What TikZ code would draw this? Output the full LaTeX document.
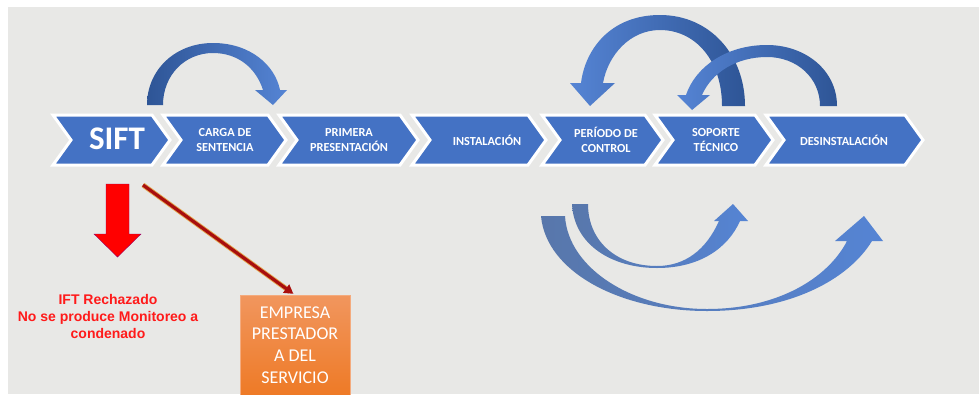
\documentclass[tikz,border=0pt]{standalone}
\usepackage{fontspec}
\setmainfont{Carlito}
\newfontfamily\arialfont{Liberation Sans}
\usetikzlibrary{arrows.meta}
\definecolor{bg}{HTML}{E8E8E6}
\definecolor{chev}{HTML}{4472C4}
\definecolor{arcdark}{HTML}{2E5596}
\definecolor{arclight}{HTML}{5584D4}
\definecolor{arcmid}{HTML}{2B5098}
\definecolor{darkred}{HTML}{A80E0E}
\definecolor{glow}{HTML}{E3A34A}
\definecolor{otop}{HTML}{F1965E}
\definecolor{obot}{HTML}{EE7A26}
\definecolor{redtxt}{HTML}{FF1A1A}
\tikzset{
  chevbox/.style={fill=chev, draw=white, line width=3pt, line join=miter},
  chevtxt/.style={text=white, font=\bfseries\fontsize{12.3}{15}\selectfont, align=center, inner sep=0pt},
  boxtxt/.style={text=white, font=\fontsize{18}{21.7}\selectfont, align=center, inner sep=0pt},
  redlabel/.style={text=redtxt, font=\arialfont\bfseries\fontsize{14}{17}\selectfont, align=center, inner sep=0pt},
  obox/.style={rectangle, minimum width=110pt, minimum height=100pt, inner sep=0pt, top color=otop, bottom color=obot, draw=otop!80!white, line width=0.5pt},
  linkarrow/.style={draw=darkred, line width=3.2pt, -{Triangle[length=9pt,width=10pt]}},
}
\newcommand\chev[2]{\filldraw[chevbox] (#1,115) -- (#2,115) -- (#2+18,140) -- (#2,165) -- (#1,165) -- (#1+18,140) -- cycle;}
\begin{document}
\begin{tikzpicture}[x=1pt,y=-1pt]
\useasboundingbox (0,0) rectangle (979,394);
\fill[white] (0,0) rectangle (979,394);
\fill[bg] (8,7) rectangle (979,394);

% chevrons
\chev{53}{152}
\chev{163}{268}
\chev{279}{400}
\chev{412}{528}
\chev{542}{645}
\chev{655}{755}
\chev{766}{905}

\node[chevtxt, font=\bfseries\fontsize{33}{33}\selectfont] (sift) at (117,138.5) {SIFT};
\node[chevtxt] (carga) at (225,140) {CARGA DE\\SENTENCIA};
\node[chevtxt] (primera) at (349,140) {PRIMERA\\PRESENTACIÓN};
\node[chevtxt] (instal) at (487,140) {INSTALACIÓN};
\node[chevtxt] (periodo) at (606,140) {PERÍODO DE\\CONTROL};
\node[chevtxt] (soporte) at (716,140.5) {SOPORTE\\TÉCNICO};
\node[chevtxt] (desinst) at (844,140) {DESINSTALACIÓN};

% curved arrow 1 (SIFT -> PRIMERA)
\shade[left color=arcdark, right color=arclight]
  (147,105) .. controls (147,70) and (175,43) .. (213,43)
  .. controls (250,43) and (275,65) .. (280,90)
  -- (287,90) -- (273,105) -- (255,90) -- (263,90)
  .. controls (256,68) and (238,53) .. (213,53)
  .. controls (185,53) and (163,75) .. (163,105) -- cycle;

% curved arrow 2 (SOPORTE -> PERIODO)
\shade[left color=arclight, right color=arcdark]
  (745,106) .. controls (745,55) and (710,15) .. (660,15)
  .. controls (610,15) and (585,50) .. (581,83)
  -- (570,83) -- (590,106) -- (615,83) -- (603,83)
  .. controls (608,55) and (630,30) .. (660,30)
  .. controls (695,30) and (722,60) .. (722,106) -- cycle;

% curved arrow 3 (DESINSTALACION -> SOPORTE)
\shade[left color=arclight, right color=arcdark]
  (837,106) .. controls (837,70) and (805,45) .. (767,45)
  .. controls (725,45) and (695,68) .. (686,95)
  -- (677,95) -- (692,110) -- (710,95) -- (702,95)
  .. controls (712,72) and (737,57) .. (767,57)
  .. controls (797,57) and (820,78) .. (820,106) -- cycle;

% lower arrow 4 (PERIODO -> SOPORTE)
\shade[left color=arcdark!80!white, middle color=arcmid, right color=arclight]
  (572,204) .. controls (574,245) and (612,268) .. (657,268)
  .. controls (700,268) and (728,248) .. (740,221)
  -- (748,221) -- (733,204) -- (714,221) -- (719,221)
  .. controls (706,250) and (685,266) .. (657,266)
  .. controls (615,266) and (588,240) .. (588,204) -- cycle;

% lower arrow 5 (PERIODO -> DESINSTALACION)
\shade[left color=arcdark!80!white, middle color=arcmid, right color=arclight]
  (541,216) .. controls (546,272) and (620,311) .. (707,311)
  .. controls (790,311) and (848,280) .. (872,241)
  -- (883,241) -- (864,216) -- (835,241) -- (847,241)
  .. controls (828,278) and (778,309) .. (707,309)
  .. controls (632,309) and (568,268) .. (565,216) -- cycle;

% red down arrow
\coordinate (redtop) at (117.5,184);
\filldraw[fill=red, draw=red!60!blue, line width=0.4pt]
  (106,184) -- (129,184) -- (129,234) -- (141,234) -- (117.5,257)
  -- (94,234) -- (106,234) -- cycle;
\node[redlabel] (rech) at (108,316) {IFT Rechazado\\No se produce Monitoreo a\\condenado};

% orange box
\node[obox, anchor=north] (box) at (295,295) {};
\node[boxtxt] (boxlabel) at (295,345) {EMPRESA\\PRESTADOR\\A DEL\\SERVICIO};

% dark red connector
\coordinate (siftfoot) at (143,185);
\draw[glow, line width=5pt, shorten >=6pt] (siftfoot) -- (box.north);
\draw[linkarrow, shorten >=2pt] (siftfoot) -- (box.north);
\end{tikzpicture}
\end{document}
